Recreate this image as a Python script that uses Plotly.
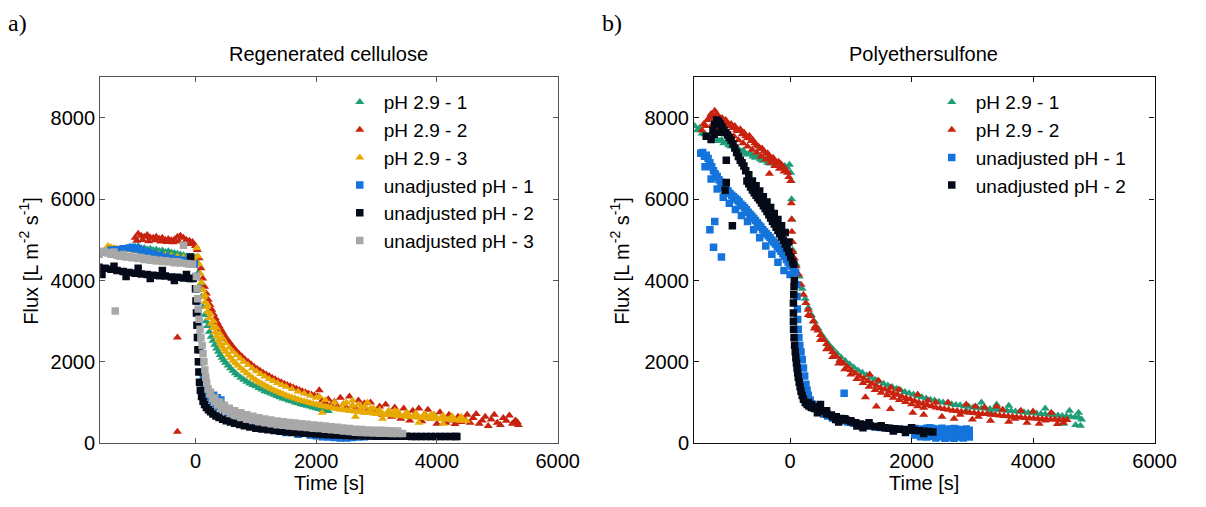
import plotly.graph_objects as go

# ================= Left panel: Regenerated cellulose =================
rc_g_t = [-1000,-950,-900,-850,-800,-750,-700,-650,-600,-550,-500,-450,-400,-350,-300,-250,
          -200,-150,-100,-50,0,
          25,50,75,100,125,150,175,200,230,260,290,320,350,380,410,440,470,500,540,580,620,660,700,
          750,800,850,900,950,1000,1050,1100,1150,1200,1250,1300,1350,1400,1450,1500,1550,1600,1650,
          1700,1750,1800,1850,1900,1950,2000,2050,2100,2150,2200]
rc_g_y = [4820,4850,4790,4800,4770,4780,4750,4760,4730,4740,4700,4720,4690,4680,4660,4640,
          4620,4600,4590,4580,4560,
          4450,4200,3900,3600,3350,3150,3000,2880,2740,2620,2520,2420,2330,2250,2170,2100,2040,1980,1910,1840,1780,1720,1670,
          1610,1560,1510,1470,1430,1400,1360,1320,1280,1250,1220,1190,1160,1130,1100,1080,1050,1030,1000,
          980,960,940,920,900,880,860,840,820,800,790]

rc_r_t = [-1000,-950,-900,-850,-800,-750,-700,-650,-600,-550,-500,-450,-400,-350,-300,-250,-200,-150,-100,-50,
          -975,-875,-775,-675,-575,-475,-375,-275,-175,-75,
          0,30,60,90,120,150,180,210,240,270,300,330,360,390,420,450,480,520,560,600,640,680,720,770,820,
          870,920,970,1020,1070,1120,1170,1220,1270,1320,1370,1420,1470,1520,1570,1620,1670,1720,1770,1820,
          1870,1920,1970,2020,
          2050,2100,2150,2200,2250,2300,2350,2400,2450,2500,2550,2600,2650,2700,2750,2800,2850,2900,2950,
          3000,3050,3100,3150,3200,3250,3300,3350,3400,3450,3500,3550,3600,3650,3700,3750,3800,3850,3900,
          3950,4000,4050,4100,4150,4200,4250,4300,4350,4400,4450,4500,4550,4600,4650,4700,4750,4800,4850,
          4900,4950,5000,5050,5100,5150,5200,5250,5300,5330,5350,
          -300,-300]
rc_r_y = [5050,5150,5100,5080,5120,5060,5050,5080,5030,5050,5000,5020,4990,5010,5080,5100,5050,5000,4980,4950,
          4980,5000,4970,4990,4960,4950,4940,4960,4930,4900,
          4850,4750,4550,4300,4050,3850,3680,3530,3400,3280,3170,3070,2970,2880,2800,2720,2650,2560,2480,2400,
          2330,2260,2200,2130,2060,2000,1940,1880,1830,1780,1730,1690,1650,1610,1570,1530,1500,1460,1430,1400,
          1370,1340,1310,1280,1250,1220,1200,1170,1150,
          1300,1050,1000,1080,950,1020,900,1120,960,880,1150,920,850,1050,870,980,800,1000,830,
          760,900,700,950,780,650,880,720,600,850,700,560,800,680,850,540,720,820,600,
          700,480,760,620,500,700,560,470,650,520,600,700,500,620,720,480,560,650,420,
          580,700,500,450,620,550,680,480,560,520,450,
          2600,280]

rc_o_t = [-1450,-1400,-1350,-1300,-1250,-1200,-1100,-1000,-900,-800,-700,-600,-500,-400,-300,-200,-100,-30,
          20,40,60,80,100,120,140,160,180,200,230,260,290,320,350,380,410,440,470,500,540,580,620,660,700,
          750,800,850,900,950,1000,1050,1100,1150,1200,1250,1300,1350,1400,1450,1500,1550,1600,1650,1700,
          1750,1800,1850,1900,1950,2000,2050,2100,2150,2200,2250,2300,2350,2400,2450,2500,2550,2600,2650,
          2700,2750,2800,2850,2900,2950,3000,3050,3100,3150,3200,3250,3300,3350,3400,3450,3500,3550,3600,
          3650,3700,3750,3800,3850,3900,3950,4000,4050,4100,4150,4200,4250,4300,4350,4400,4450,4490,
          2050,2100,2500,2600,2650,2700,2800,2850,2950,3100,3300,3500,3700,3900,4100]
rc_o_y = [4850,4820,4800,4790,4780,4770,4750,4730,4710,4690,4670,4650,4630,4610,4590,4570,4560,4560,
          4800,4600,4400,4170,3950,3770,3600,3470,3350,3230,3070,2940,2830,2720,2630,2540,2460,2380,2310,2250,2170,2100,2030,1970,1910,
          1840,1780,1720,1660,1600,1550,1500,1460,1420,1380,1340,1300,1270,1240,1210,1180,1150,1125,1100,1075,
          1050,1030,1010,990,970,950,930,915,900,885,870,855,840,830,820,810,800,790,780,
          770,760,750,745,740,730,720,715,710,700,695,690,680,675,670,665,655,650,645,
          640,630,625,620,615,610,605,600,595,590,585,580,575,570,565,560,555,550,
          1150,750,1000,1050,650,950,900,1000,850,600,800,750,500,700,480]
# upper edge of the orange band
rc_o_edge_t = [150,200,250,300,350,400,450,500,560,620,680,740,800,870,940,1010,1080,1150,1220,1290,1360,
               1430,1500,1600,1700,1800,1900,2000,2150,2300,2450,2600,2750,2900,3050,3200,3350,3500,3650,
               3800,3950,4100,4250,4400]
rc_o_edge_y = [3650,3400,3180,3000,2840,2700,2580,2460,2350,2250,2160,2080,2000,1920,1840,1770,1700,1640,
               1580,1530,1480,1430,1390,1330,1270,1220,1170,1120,1060,1000,960,920,880,850,820,800,780,760,
               740,720,700,680,665,650]

rc_b_t = [-1600,-1500,-1400,-1300,-1200,-1100,-1050,-1000,-950,-900,-800,-700,-600,-500,-400,-300,-200,-100,-20,
          10,20,30,40,50,60,75,90,110,130,150,175,200,230,260,300,340,380,430,480,540,600,670,740,820,900,
          980,1060,1150,1250,1350,1450,1550,1650,1750,1850,1950,2050,2150,2250,2350,2450,2550,2650,2750,
          2850,2950,3050,
          1500,1700,1900,2000,2100,2200,2300,2400,2500,2600,2700,2800,2900,300,360,420]
rc_b_y = [4650,4700,4750,4760,4780,4800,4820,4780,4790,4750,4700,4660,4620,4580,4550,4520,4500,4470,4400,
          4100,3800,3500,3200,2900,2600,2300,2000,1750,1580,1450,1330,1230,1150,1080,1020,960,910,860,810,760,720,680,640,600,570,
          540,510,490,470,450,430,410,400,390,380,370,360,350,345,335,325,315,305,300,
          290,285,280,
          260,220,200,180,160,150,140,130,130,140,150,160,170,1180,1120,1060]

rc_k_t = [-1600,-1500,-1400,-1300,-1200,-1100,-1000,-900,-800,-700,-600,-500,-400,-300,-200,-100,-40,
          -1550,-1350,-1150,-950,-750,-550,-350,-150,-80,
          0,8,16,24,32,40,48,56,66,80,100,125,150,180,215,250,290,340,390,450,510,580,650,730,810,900,
          1000,1100,1200,1300,1400,1500,1600,1700,1800,1900,2000,2100,2200,2300,2400,2500,2600,2700,2800,
          2900,3000,3100,3180,3260,3340,3420,3500,3580,3660,3740,3820,3900,3980,4060,4140,4220,4300,4330]
rc_k_y = [4330,4300,4280,4250,4220,4200,4180,4160,4150,4130,4120,4110,4090,4080,4060,4050,4050,
          4150,4350,4100,4300,4050,4250,4000,4150,4580,
          3800,3500,3200,2900,2600,2300,2000,1750,1500,1300,1150,1030,950,880,820,770,720,670,630,590,550,520,490,460,430,400,
          370,350,330,310,295,280,265,255,245,235,225,215,205,200,195,190,185,180,178,
          175,172,170,170,170,170,168,168,167,166,165,165,165,165,165,165,165,165,165]

rc_gr_t = [-1600,-1550,-1500,-1450,-1400,-1350,-1300,-1250,-1200,-1150,-1100,-1050,-1000,-950,-900,-850,
           -800,-750,-700,-650,-600,-550,-500,-450,-400,-350,-300,-250,-150,-100,-50,-200,-1330,
           15,25,35,45,60,75,90,110,125,140,155,170,185,210,240,280,320,370,430,500,580,660,750,850,950,
           1050,1150,1250,1350,1450,1550,1650,1750,1850,1950,2050,2150,2250,2350,2450,2550,2650,2750,2850,
           2950,3050,3150,3250,3350,3430]
rc_gr_y = [4650,4720,4700,4680,4650,4700,4620,4600,4640,4580,4600,4560,4580,4540,4560,4520,
           4540,4500,4520,4480,4500,4470,4490,4460,4470,4440,4460,4430,4420,4410,4400,4870,3250,
           4100,3800,3550,3300,3050,2800,2600,2400,2200,2000,1800,1620,1480,1330,1210,1100,1020,940,860,790,730,680,630,590,555,
           525,500,475,455,440,425,410,395,385,370,360,345,330,315,300,285,270,262,255,
           250,247,244,241,238,235]
# upper edge of the grey band
rc_gr_edge_t = [250,320,400,480,560,650,750,850,950,1050,1150,1250,1350,1450,1550,1650,1750,1850,1950,
                2050,2150,2250,2350,2450,2550,2650,2750,2850,2950,3050,3150,3250,3350]
rc_gr_edge_y = [1250,1110,1010,930,860,800,750,700,660,625,595,570,545,525,510,495,480,465,450,
                435,420,405,390,375,360,345,335,325,320,315,310,305,300]

# ================= Right panel: Polyethersulfone =================
pes_g_t = [-1570,-1530,-1490,-1450,-1410,-1370,-1330,-1290,-1250,-1210,-1170,-1130,-1090,-1050,-1010,-970,
           -930,-890,-850,-810,-770,-730,-690,-650,-610,-570,-530,-490,-450,-410,-370,-330,-290,-250,-210,
           -170,-130,-90,-50,-10,
           10,20,25,30,40,
           100,150,200,250,300,350,400,460,520,580,640,700,770,840,910,980,1050,1120,1190,1260,1330,1400,
           1470,1540,1610,1680,1750,1820,1890,1960,2030,2100,2170,2240,2310,2380,2450,2520,2590,2660,2730,
           2800,2870,2940,3010,3080,3150,3220,3290,3360,3430,3500,3570,3640,3710,3780,3850,3920,3990,4060,
           4130,4200,4270,4340,4410,4480,4550,4620,4690,4750,
           3150,3400,3600,4200,4600,4500,4700,4750,4780,4800,2900,3300]
pes_g_y = [7800,7700,7750,7620,7600,7560,7530,7580,7480,7470,7430,7460,7380,7400,7330,7300,
           7330,7250,7230,7180,7200,7120,7100,7130,7050,7020,7060,6980,6950,6980,6900,6880,6920,6850,6830,
           6870,6800,6820,6780,6850,
           6650,6450,6000,5500,4750,
           4400,4100,3800,3550,3330,3150,2990,2820,2670,2540,2420,2320,2210,2110,2020,1940,1860,1790,1730,1670,1610,1560,
           1510,1460,1420,1380,1340,1300,1260,1230,1200,1160,1130,1100,1070,1050,1020,1000,980,960,940,
           930,910,900,880,870,860,850,840,830,820,810,800,790,780,770,760,750,740,730,
           720,710,700,690,680,670,660,650,640,630,
           1000,950,920,850,800,480,450,750,430,580,800,760]

pes_r_t = [-1450,-1420,-1390,-1360,-1330,-1300,-1270,-1240,-1210,-1180,-1150,-1120,-1090,-1060,-1030,-1000,
           -970,-940,-910,-880,-850,-820,-790,-760,-730,-700,-670,-640,-610,-580,-550,-520,-490,-460,-430,
           -400,-370,-340,-310,-280,-250,-220,-190,-160,-130,-100,-70,-40,-20,-340,
           10,20,25,30,40,50,70,
           100,140,180,220,260,300,340,380,420,460,500,550,600,650,700,760,820,880,940,1000,1070,1140,1210,
           1280,1350,1420,1490,1560,1630,1700,1770,1840,1910,1980,2050,2120,2190,2260,2330,2400,2470,2540,
           2610,2680,2750,2820,2890,2960,3030,3100,3170,3240,3310,3380,3450,3520,3590,3660,3730,3800,3870,
           3940,4010,4080,4150,4220,4290,4360,4430,4500,4560,
           1310,1450,1660,1790,1240,1420,1650,2020,2270,2400,2500,2700,2900,3000,3200,3300,3500,
           3600,3800,3900,4000,4100,4300,4400,2200,2600,2800,3100,3400,3700,4200,4500,2100,3050]
pes_r_y = [7700,7850,7800,7950,8000,8100,8050,8180,8100,8050,7950,8000,7900,7950,7850,7800,
           7850,7750,7800,7700,7680,7720,7600,7640,7550,7500,7560,7430,7450,7380,7330,7300,7240,7250,7180,
           7120,7130,7050,7000,7020,6950,6900,6920,6880,6830,6780,6720,6650,6550,6630,
           6450,5900,5500,5200,4950,4700,4550,
           4350,4150,3900,3650,3450,3280,3130,3000,2880,2770,2660,2550,2440,2340,2240,2140,2040,1960,1880,1800,1720,1650,1590,
           1530,1460,1410,1360,1320,1270,1230,1190,1150,1110,1080,1040,1000,970,940,910,880,860,840,
           820,800,790,775,760,750,740,730,720,715,700,690,680,670,660,650,640,630,620,
           615,610,600,595,590,585,580,575,570,570,
           1690,1540,1370,1320,1130,900,840,750,1050,1000,650,600,950,580,880,550,820,
           530,800,500,780,480,750,470,700,1000,700,650,900,600,560,500,1200,900]
# lower edges of the red band (before and after the drop)
pes_r_edge_t = [-1300,-1225,-1150,-1075,-1000,-925,-850,-775,-700,-625,-550,-475,-400,-325,-250,-175,-100,
                300,400,500,600,700,800,900,1000,1100,1200,1300,1400,1500,1600,1700,1800,1900,2000,2100,2200]
pes_r_edge_y = [7800,7850,7750,7700,7600,7550,7450,7380,7300,7220,7150,7050,6980,6900,6820,6750,6680,
                3150,2820,2540,2310,2120,1960,1820,1690,1580,1480,1390,1310,1240,1180,1120,1060,1010,960,910,870]

pes_b_t = [-1470,-1440,-1410,-1380,-1350,-1320,-1290,-1260,-1230,-1200,-1170,-1140,-1110,-1080,-1050,-1020,
           -990,-960,-930,-900,-870,-840,-810,-780,-750,-720,-690,-660,-630,-600,-570,-540,-510,-480,-450,
           -420,-390,-360,-330,-300,-270,-240,-210,-180,-150,-120,-90,-60,-30,0,30,60,90,
           -1240,-1320,-1260,-1130,
           110,115,120,125,135,145,160,180,200,220,240,260,280,300,330,370,420,480,550,620,700,780,860,950,
           1040,1130,1220,1310,1400,1500,1600,1700,1800,1900,2000,2100,2200,2300,2400,2500,2600,2700,2800,
           2900,2950,
           890,2250,2400,2550,2700,2850,2950,2300,2500,2700,2900,2350,2650,2800,2600]
pes_b_y = [7130,7150,7060,7080,7000,6900,6800,6700,6620,6560,6480,6420,6380,6300,6250,6200,
           6140,6100,6060,6020,5980,5940,5880,5840,5790,5740,5680,5630,5580,5530,5480,5420,5360,5320,5250,
           5200,5150,5100,5060,5000,4950,4900,4840,4780,4720,4660,4600,4520,4450,4400,4350,4280,4200,
           5450,5250,4820,4580,
           3900,3610,3300,3040,2800,2600,2400,2240,2050,1850,1650,1450,1300,1180,1060,960,870,790,720,670,620,580,550,520,
           490,460,440,420,400,385,370,355,340,330,320,310,300,290,280,270,265,260,255,
           250,245,
           1230,150,130,120,120,130,150,380,370,360,350,200,190,200,330]
# lower edge of the blue band and the dense block at the end of the run
pes_b_edge_t = [-1400,-1300,-1200,-1100,-1000,-900,-800,-700,-600,-500,-400,-300,-200,-100,0,
                2050,2150,2250,2350,2450,2550,2650,2750,2850,2950,
                2050,2150,2250,2350,2450,2550,2650,2750,2850,2950]
pes_b_edge_y = [6800,6500,6250,6050,5900,5750,5600,5450,5250,5050,4850,4650,4450,4250,4150,
                200,160,180,170,160,150,140,150,160,170,
                360,350,370,360,350,340,350,340,330,320]

pes_k_t = [-1300,-1270,-1240,-1210,-1180,-1150,-1120,-1090,-1060,-1030,-1000,-970,-940,-910,-880,-850,
           -820,-790,-760,-730,-710,-680,-650,-620,-590,-560,-530,-500,-470,-440,-410,-380,-350,-320,-290,
           -260,-230,-200,-170,-140,-110,-80,-50,-20,10,40,60,
           -1050,-1050,-1070,-950,-1380,-1150,-1250,
           70,65,60,55,55,55,58,65,75,85,95,105,115,125,135,150,165,180,200,220,250,280,310,350,400,460,530,
           600,680,760,840,920,1000,1080,1160,1240,1320,1400,1480,1560,1640,1720,1800,1880,1960,2040,2120,
           2200,2280,2350,
           300,350,450,500,600,700,900,1000,450,600,750,1100,1300,1500,1700,2000,2200,800,1200,1900]
pes_k_y = [7470,7700,7850,7950,7920,7850,7780,7700,7640,7580,7520,7450,7360,7260,7150,7050,
           6960,6900,6820,6700,6450,6380,6300,6230,6160,6100,6040,5980,5910,5840,5770,5700,5620,5540,5460,
           5390,5310,5230,5150,5070,4990,4900,4800,4700,4580,4460,4400,
           6960,6410,6220,5350,7550,7650,7600,
           4000,3850,3650,3450,3200,3000,2800,2600,2410,2250,2100,1970,1850,1730,1620,1500,1390,1280,1170,1080,1000,950,915,880,850,820,790,
           740,690,650,610,570,530,500,470,450,430,410,395,380,365,355,345,335,325,315,305,
           295,285,275,
           1000,950,900,950,800,650,600,550,750,720,580,420,500,430,300,380,240,520,380,260]
# upper edge of the black band before the drop
pes_k_edge_t = [-680,-620,-560,-500,-440,-380,-320,-260,-200,-140,-80,-20]
pes_k_edge_y = [6600,6450,6330,6200,6060,5930,5800,5650,5500,5350,5180,4950]

# ================= styling =================
C_GREEN = "#1e9e78"
C_RED = "#c8230f"
C_ORANGE = "#e6aa00"
C_BLUE = "#1474dc"
C_BLACK = "#050a19"
C_GRAY = "#a8a8a8"
FONT = "Liberation Sans, Arial, sans-serif"

fig = go.Figure()

def add(t, y, name, color, symbol, xa, ya, legend):
    fig.add_trace(go.Scatter(
        x=t, y=y, mode="markers", name=name,
        marker=dict(color=color, symbol=symbol, size=8 if symbol == "triangle-up" else 7.5,
                    line=dict(width=0)),
        xaxis=xa, yaxis=ya, legend=legend))

add(rc_g_t, rc_g_y, "pH 2.9 - 1", C_GREEN, "triangle-up", "x", "y", "legend")
add(rc_r_t, rc_r_y, "pH 2.9 - 2", C_RED, "triangle-up", "x", "y", "legend")
add(rc_o_t + rc_o_edge_t, rc_o_y + rc_o_edge_y, "pH 2.9 - 3", C_ORANGE, "triangle-up", "x", "y", "legend")
add(rc_b_t, rc_b_y, "unadjusted pH - 1", C_BLUE, "square", "x", "y", "legend")
add(rc_k_t, rc_k_y, "unadjusted pH - 2", C_BLACK, "square", "x", "y", "legend")
add(rc_gr_t + rc_gr_edge_t, rc_gr_y + rc_gr_edge_y, "unadjusted pH - 3", C_GRAY, "square", "x", "y", "legend")

add(pes_g_t, pes_g_y, "pH 2.9 - 1", C_GREEN, "triangle-up", "x2", "y2", "legend2")
add(pes_r_t + pes_r_edge_t, pes_r_y + pes_r_edge_y, "pH 2.9 - 2", C_RED, "triangle-up", "x2", "y2", "legend2")
add(pes_b_t + pes_b_edge_t, pes_b_y + pes_b_edge_y, "unadjusted pH - 1", C_BLUE, "square", "x2", "y2", "legend2")
add(pes_k_t + pes_k_edge_t, pes_k_y + pes_k_edge_y, "unadjusted pH - 2", C_BLACK, "square", "x2", "y2", "legend2")

W, H = 1206, 507
def px(x): return x / W
def py(y): return 1 - y / H

x_ticks = [0, 2000, 4000, 6000]
y_ticks = [0, 2000, 4000, 6000, 8000]

def xaxis(dom, anchor, lc):
    return dict(domain=dom, anchor=anchor, range=[-1580, 6000], tickvals=x_ticks,
                ticks="inside", ticklen=5, tickcolor=lc, showline=True, linecolor=lc,
                linewidth=1.2, mirror="ticks", showgrid=False, zeroline=False,
                tickfont=dict(family=FONT, size=20, color="#000"))

def yaxis(anchor, lc):
    return dict(domain=[py(453), py(79)], anchor=anchor, range=[0, 9000], tickvals=y_ticks,
                ticks="inside", ticklen=5, tickcolor=lc, showline=True, linecolor=lc,
                linewidth=1.2, mirror="ticks", showgrid=False, zeroline=False,
                tickfont=dict(family=FONT, size=20, color="#000"))

legend_common = dict(font=dict(family=FONT, size=19, color="#000"), bgcolor="rgba(0,0,0,0)",
                     xanchor="left", yanchor="top", tracegroupgap=0, itemwidth=38)

ann = []
def text(x, y, s, size=20, fam=FONT, angle=0, xanchor="center"):
    ann.append(dict(x=px(x), y=py(y), xref="paper", yref="paper", text=s, showarrow=False,
                    font=dict(family=fam, size=size, color="#000"), textangle=angle,
                    xanchor=xanchor, yanchor="middle"))

text(335, 55, "Regenerated cellulose", size=20)
text(941, 55, "Polyethersulfone", size=20)
text(335, 494, "Time [s]", size=20)
text(941, 494, "Time [s]", size=20)
ytitle = "Flux [L m<sup>-2</sup> s<sup>-1</sup>]"
text(29, 266, ytitle, size=20, angle=-90)
text(631, 266, ytitle, size=20, angle=-90)
text(6, 24, "a)", size=24, fam="Liberation Serif, Times New Roman, serif", xanchor="left")
text(611, 24, "b)", size=24, fam="Liberation Serif, Times New Roman, serif", xanchor="left")

fig.update_layout(
    width=W, height=H, margin=dict(l=0, r=0, t=0, b=0),
    paper_bgcolor="white", plot_bgcolor="white",
    xaxis=xaxis([px(102), px(568)], "y", "#555"),
    yaxis=yaxis("x", "#555"),
    xaxis2=xaxis([px(707), px(1176)], "y2", "#111"),
    yaxis2=yaxis("x2", "#111"),
    legend=dict(x=px(342), y=py(85), **legend_common),
    legend2=dict(x=px(945), y=py(85), **legend_common),
    annotations=ann,
    showlegend=True,
)

fig.write_html("out.html")
